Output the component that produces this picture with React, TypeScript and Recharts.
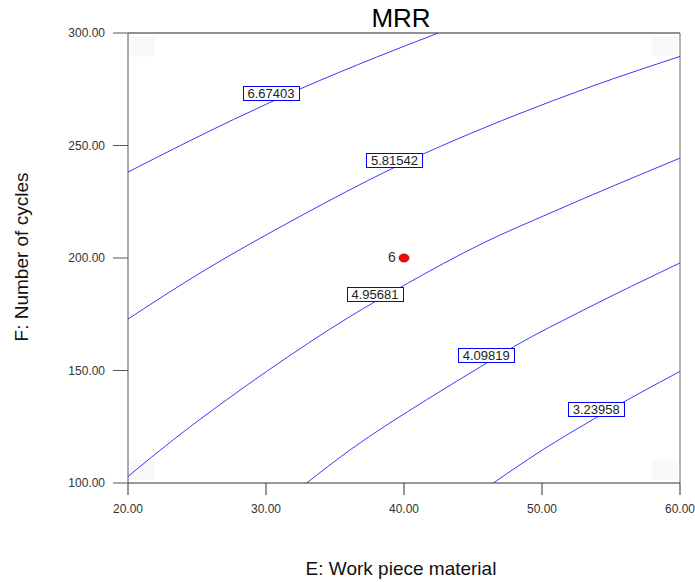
import React from 'react';
import { ComposedChart, Line, Scatter, XAxis, YAxis, ReferenceLine, ReferenceArea, Label } from 'recharts';

const xTicks = [20, 30, 40, 50, 60];
const yTicks = [100, 150, 200, 250, 300];

const contour1 = [
  { x: 20, y: 238.2 }, { x: 27.63, y: 261.5 }, { x: 32.46, y: 275.1 }, { x: 38.02, y: 289.3 },
  { x: 42.49, y: 300 },
];
const contour2 = [
  { x: 20, y: 172.9 }, { x: 25.22, y: 193.3 }, { x: 32.46, y: 218.5 }, { x: 39.22, y: 240 },
  { x: 48.17, y: 263.7 }, { x: 53.48, y: 276 }, { x: 60, y: 289.6 },
];
const contour3 = [
  { x: 20, y: 102.9 }, { x: 23.28, y: 119.2 }, { x: 27.15, y: 137 }, { x: 30.05, y: 149.6 },
  { x: 36.09, y: 174.0 }, { x: 39.95, y: 187.7 }, { x: 45.75, y: 206.7 }, { x: 50.6, y: 220 },
  { x: 60, y: 244.4 },
];
const contour4 = [
  { x: 32.95, y: 100 }, { x: 36.09, y: 114.7 }, { x: 41.64, y: 137 }, { x: 45.99, y: 153.3 },
  { x: 47.99, y: 160.7 }, { x: 52.99, y: 176.8 }, { x: 60, y: 197.8 },
];
const contour5 = [
  { x: 46.47, y: 100 }, { x: 49.86, y: 114 }, { x: 54.08, y: 129.6 }, { x: 60, y: 149.6 },
];
const contours = [contour1, contour2, contour3, contour4, contour5];

const contourLevels = ['6.67403', '5.81542', '4.95681', '4.09819', '3.23958'];
const labelXs = [30.36, 39.31, 37.9, 45.96, 53.93];
const labelYs = [273.5, 243.6, 183.8, 156.7, 132.7];
const contourLabels = contourLevels.map((label, i) => ({ x: labelXs[i], y: labelYs[i], label }));

const designPoints = [{ x: 40, y: 200, run: '6' }];

const cornerBoxes = [
  { x1: 20.1, x2: 21.95, y1: 289.6, y2: 298.7 },
  { x1: 57.94, x2: 59.87, y1: 289.6, y2: 298.7 },
  { x1: 20.1, x2: 21.95, y1: 101.2, y2: 110.4 },
  { x1: 57.94, x2: 59.87, y1: 101.2, y2: 110.4 },
];

const FONT = '"Liberation Sans", Arial, sans-serif';
const BLUE = '#3a3aff';

const ContourLabel = (props: any) => {
  const { cx, cy, payload } = props;
  return (
    <g>
      <rect x={Math.round(cx) - 27.5} y={Math.round(cy) - 6.5} width={56} height={14} fill="#fff" stroke="#0000ff" strokeWidth={1} />
      <text x={cx} y={cy + 5} textAnchor="middle" fontSize={13} fontFamily={FONT} fill="#222">{payload.label}</text>
    </g>
  );
};

const DesignPoint = (props: any) => {
  const { cx, cy, payload } = props;
  return (
    <g>
      <ellipse cx={cx} cy={cy} rx={5} ry={4} fill="#ff0000" stroke="#aa0000" strokeWidth={0.8} />
      <text x={cx - 12} y={cy + 4} textAnchor="middle" fontSize={14} fontFamily={FONT} fill="#333">{payload.run}</text>
    </g>
  );
};

export default function App() {
  return (
    <div style={{ position: 'absolute', left: 0, top: 0, background: '#fff' }}>
      <ComposedChart width={695} height={582} margin={{ top: 33, right: 15, left: 0, bottom: 0 }}>
        <text x={401} y={27} textAnchor="middle" fontSize={26} fontFamily={FONT} fill="#000">MRR</text>
        {cornerBoxes.map((b, i) => (
          <ReferenceArea key={'c' + i} x1={b.x1} x2={b.x2} y1={b.y1} y2={b.y2} fill="#f9f9f9" fillOpacity={1} stroke="none" />
        ))}
        <XAxis
          type="number"
          dataKey="x"
          domain={[20, 60]}
          ticks={xTicks}
          tickFormatter={(v: number) => v.toFixed(2)}
          tickSize={12}
          tickMargin={9}
          height={99}
          stroke="#333"
          tick={{ fontSize: 12, fontFamily: FONT, fill: '#333' }}
          allowDataOverflow
          interval={0}
        >
          <Label
            content={() => (
              <text x={401} y={575} textAnchor="middle" fontSize={19} fontFamily={FONT} fill="#111">E: Work piece material</text>
            )}
          />
        </XAxis>
        <YAxis
          type="number"
          dataKey="y"
          domain={[100, 300]}
          ticks={yTicks}
          tickFormatter={(v: number) => v.toFixed(2)}
          tickSize={15}
          tickMargin={8}
          width={128}
          stroke="#555"
          tick={{ fontSize: 12, fontFamily: FONT, fill: '#333' }}
          allowDataOverflow
          interval={0}
        >
          <Label
            content={() => (
              <text x={28} y={257} transform="rotate(-90 28 257)" textAnchor="middle" fontSize={19} fontFamily={FONT} fill="#111">F: Number of cycles</text>
            )}
          />
        </YAxis>
        <ReferenceLine y={300} stroke="#222" strokeWidth={1} />
        <ReferenceLine x={60} stroke="#666" strokeWidth={1} />
        {contours.map((c, i) => (
          <Line
            key={'l' + i}
            data={c}
            dataKey="y"
            type="monotone"
            stroke={BLUE}
            strokeWidth={1}
            dot={false}
            activeDot={false}
            isAnimationActive={false}
          />
        ))}
        <Scatter data={contourLabels} dataKey="y" shape={ContourLabel} isAnimationActive={false} />
        <Scatter data={designPoints} dataKey="y" shape={DesignPoint} isAnimationActive={false} />
      </ComposedChart>
    </div>
  );
}
